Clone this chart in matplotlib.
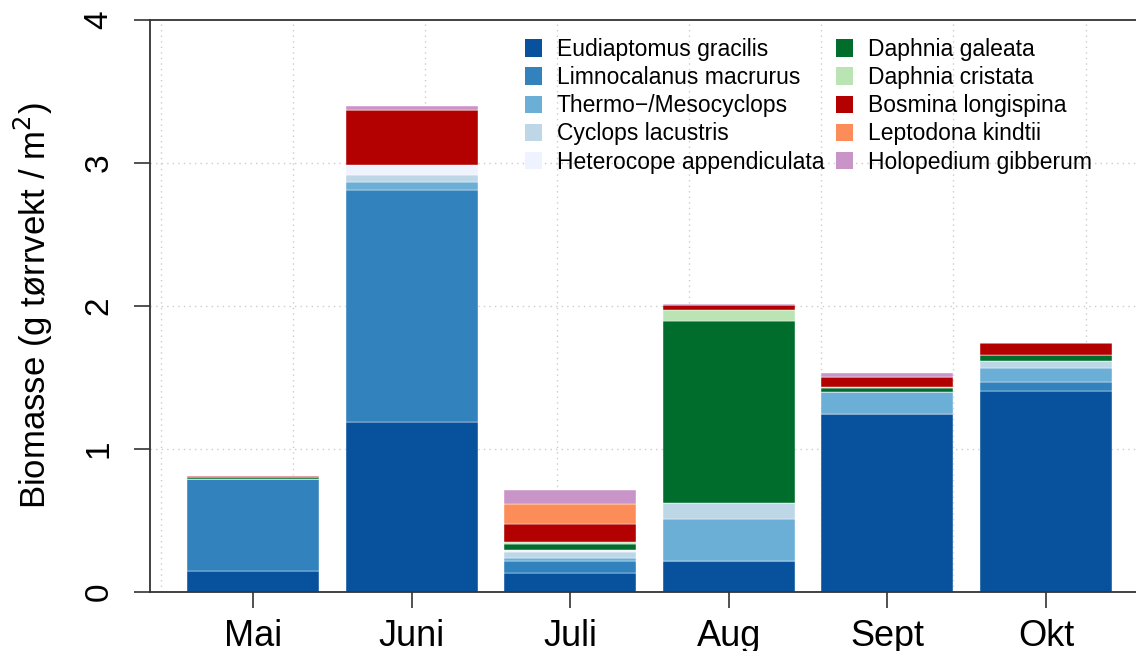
# stacked zooplankton biomass per month

import matplotlib
matplotlib.use('Agg')
import matplotlib.pyplot as plt
from matplotlib.patches import Patch
import numpy as np

plt.rcParams['font.family'] = ['Liberation Sans', 'DejaVu Sans']

months = ['Mai', 'Juni', 'Juli', 'Aug', 'Sept', 'Okt']
species = ['Eudiaptomus gracilis', 'Limnocalanus macrurus', 'Thermo\u2212/Mesocyclops',
           'Cyclops lacustris', 'Heterocope appendiculata', 'Daphnia galeata',
           'Daphnia cristata', 'Bosmina longispina', 'Leptodona kindtii', 'Holopedium gibberum']
colors = ['#08519C', '#3182BD', '#6BAED6', '#BDD7E7', '#EFF3FF',
          '#006D2C', '#BAE4B3', '#B30000', '#FC8D59', '#C994C7']

# biomass (g dry weight / m2)
eudiaptomus = [0.147, 1.190, 0.131, 0.212, 1.240, 1.402]
limnocalanus = [0.642, 1.623, 0.084, 0.000, 0.000, 0.068]
thermo = [0.000, 0.057, 0.023, 0.299, 0.154, 0.096]
cyclops = [0.000, 0.048, 0.038, 0.110, 0.000, 0.047]
heterocope = [0.000, 0.065, 0.016, 0.000, 0.000, 0.000]
d_galeata = [0.014, 0.000, 0.039, 1.273, 0.030, 0.040]
d_cristata = [0.000, 0.000, 0.019, 0.075, 0.009, 0.000]
bosmina = [0.007, 0.390, 0.127, 0.035, 0.067, 0.087]
leptodona = [0.000, 0.000, 0.135, 0.000, 0.000, 0.000]
holopedium = [0.000, 0.027, 0.098, 0.006, 0.030, 0.000]

series = [eudiaptomus, limnocalanus, thermo, cyclops, heterocope,
          d_galeata, d_cristata, bosmina, leptodona, holopedium]

fig = plt.figure(figsize=(11.36, 6.51), dpi=100)
ax = fig.add_axes([150/1136, (651-591.7)/651, (1149-150)/1136, (591.7-20)/651])

# R barplot style positions
x = 0.7 + 1.2*np.arange(len(months))
bottom = np.zeros(len(months))
for vals, col in zip(series, colors):
    ax.bar(x, vals, width=1.0, bottom=bottom, color=col, edgecolor='white',
           linewidth=0.3, zorder=2)
    bottom += np.array(vals)

ax.set_xlim(-0.08, 7.48)
ax.set_ylim(0, 4)

# dotted grid behind bars
for gx in range(0, 8):
    ax.axvline(gx, color='#cccccc', linestyle=(0, (1, 3)), linewidth=1, zorder=1)
for gy in range(1, 4):
    ax.axhline(gy, color='#cccccc', linestyle=(0, (1, 3)), linewidth=1, zorder=1)

ax.set_xticks(x)
ax.set_xticklabels(months, fontsize=26)
ax.set_yticks([0, 1, 2, 3, 4])
ax.set_yticklabels(['0', '1', '2', '3', '4'], fontsize=24, rotation=90, va='center')
ax.tick_params(axis='both', direction='out', length=11.5, width=1.2, color='#333333')
ax.tick_params(axis='x', pad=8)
ax.tick_params(axis='y', pad=14)
for s in ax.spines.values():
    s.set_color('#333333')
    s.set_linewidth(1.3)

ax.set_ylabel('Biomasse (g t\u00f8rrvekt / m$^2$)', fontsize=25)
ax.yaxis.set_label_coords((55-150)/999, 0.5)

handles = [Patch(facecolor=c, edgecolor='none') for c in colors]
fig.legend(handles, species, loc='upper left', bbox_to_anchor=(525/1136, (651-38)/651),
           ncol=2, frameon=False, fontsize=16.5, borderpad=0, borderaxespad=0,
           handlelength=0.74, handleheight=0.79, handletextpad=0.64,
           columnspacing=0.52, labelspacing=0.225)

fig.savefig('out.png', dpi=100)
